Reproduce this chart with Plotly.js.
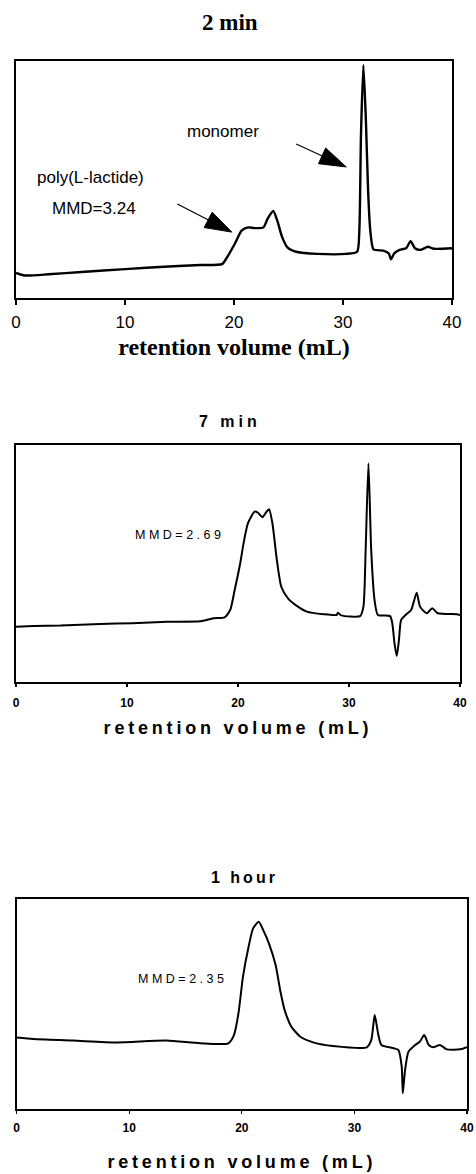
<!DOCTYPE html>
<html>
<head>
<meta charset="utf-8">
<script src="https://cdn.plot.ly/plotly-3.0.1.min.js"></script>
<style>
html, body { margin: 0; padding: 0; background: #fff; }
#chart { width: 476px; height: 1174px; }
.annotation[data-index="1"] text { letter-spacing: 4px; }
.annotation[data-index="2"] text { letter-spacing: 3px; }
.annotation[data-index="6"] text, .annotation[data-index="7"] text { letter-spacing: 3.5px; }
.g-x2title text, .g-x3title text { letter-spacing: 3.8px; }
.x2y2 .xtick text, .x3y3 .xtick text { letter-spacing: 1px; }
</style>
</head>
<body>
<div id="chart"></div>
<script>
// ---- Data (x = retention volume mL, y = detector response, arbitrary 0-100) ----
const x2min = [0, 0.8, 3, 6, 10, 14, 16.9, 18.9, 19.3, 20.1, 20.7, 21.3, 21.9, 22.7, 23.1, 23.6, 24.0, 24.4, 24.9, 25.8, 27.6, 30.3, 31.3, 31.5, 31.65, 31.87, 32.1, 32.3, 32.5, 32.8, 33.7, 34.2, 34.4, 34.7, 35.2, 35.8, 36.2, 36.6, 37.1, 37.8, 38.3, 40];
const y2min = [10.6, 9.5, 10.0, 11.0, 12.2, 13.3, 13.9, 14.3, 16.7, 23.1, 28.4, 29.8, 29.5, 29.8, 33.6, 36.7, 32.2, 25.9, 21.4, 19.4, 18.6, 18.6, 19.5, 28.7, 69.0, 98.3, 75.0, 45.6, 28.7, 20.5, 20.0, 18.8, 16.3, 18.8, 20.3, 21.0, 24.0, 21.0, 20.3, 21.6, 20.8, 21.0];

const x7min = [0, 1.6, 4, 7.6, 10.5, 13.6, 16.6, 17.8, 18.8, 19.3, 19.7, 20.2, 20.5, 20.9, 21.5, 21.8, 22.2, 22.5, 22.8, 23.1, 23.5, 23.9, 24.5, 25.3, 26.2, 27.7, 28.9, 29.0, 29.3, 31.0, 31.3, 31.5, 31.75, 32.0, 32.3, 32.6, 33.7, 33.9, 34.1, 34.3, 34.5, 34.7, 35.2, 35.6, 36.1, 36.4, 37.0, 37.5, 38.0, 39.7, 40];
const y7min = [23.3, 23.6, 23.8, 24.5, 24.8, 25.4, 25.6, 26.9, 27.3, 30.4, 38.8, 50.1, 58.5, 67.0, 71.9, 71.4, 69.5, 71.4, 72.9, 67.0, 51.5, 40.2, 35.3, 32.1, 29.7, 28.6, 28.3, 29.2, 28.1, 27.8, 31.8, 55.7, 92.3, 55.7, 34.6, 28.3, 27.8, 24.8, 16.3, 11.0, 17.7, 26.2, 28.7, 30.4, 37.7, 31.8, 29.0, 31.1, 29.0, 28.6, 28.3];

const x1h = [0, 1.5, 5, 8.9, 13.3, 16.3, 18.8, 19.3, 19.7, 20.1, 20.6, 21.0, 21.5, 21.9, 22.4, 23.0, 23.4, 23.8, 24.4, 25.2, 26.4, 28.1, 31.1, 31.5, 31.8, 32.1, 32.4, 33.5, 33.9, 34.2, 34.3, 34.5, 34.8, 35.4, 35.8, 36.2, 36.6, 37.0, 37.6, 38.2, 39.4, 40];
const y1h = [34.0, 33.3, 32.6, 31.7, 32.6, 31.3, 31.3, 35.2, 45.6, 63.0, 77.3, 86.0, 89.2, 85.2, 78.9, 68.6, 56.7, 47.1, 39.2, 34.4, 31.6, 30.0, 29.4, 32.9, 44.8, 36.0, 30.5, 28.9, 28.1, 20.2, 7.5, 18.6, 27.3, 30.5, 32.0, 35.2, 30.5, 29.4, 30.5, 28.4, 28.4, 29.4];

const tickVals = [0, 10, 20, 30, 40];
const tickText = ['0', '10', '20', '30', '40'];

// annotation arrows (tail -> tip), in data coordinates of panel 1
const arrowMonoX = [25.7, 30.3], arrowMonoY = [65.0, 55.3];
const arrowPolyX = [14.8, 19.8], arrowPolyY = [39.7, 27.8];

// ---- Figure ----
const W = 476, H = 1174;
const px = v => v / W;
const py = v => 1 - v / H;

function curve(x, y, ax, width) {
  return { x: x, y: y, xaxis: ax[0], yaxis: ax[1], type: 'scatter', mode: 'lines',
    line: { color: '#000', width: width, shape: 'spline', smoothing: 0.6 }, hoverinfo: 'skip', showlegend: false };
}
function arrow(x, y) {
  return { x: x, y: y, xaxis: 'x', yaxis: 'y', type: 'scatter', mode: 'lines+markers',
    line: { color: '#000', width: 1.2 }, opacity: 1,
    marker: { symbol: 'arrow', size: [0, 28], color: '#000', opacity: 1, angleref: 'previous', line: { color: '#000', width: 1 } },
    hoverinfo: 'skip', showlegend: false };
}

const data = [
  curve(x2min, y2min, ['x', 'y'], 2.4),
  curve(x7min, y7min, ['x2', 'y2'], 2),
  curve(x1h, y1h, ['x3', 'y3'], 2),
  arrow(arrowMonoX, arrowMonoY),
  arrow(arrowPolyX, arrowPolyY)
];

const sans = 'Liberation Sans, Arial, sans-serif';
const serif = 'Liberation Serif, Times New Roman, serif';

function xax(domain, anchor, tickFont, labelGap, titleText, titleFont, standoff, ticklen, lw) {
  return {
    domain: domain, anchor: anchor, range: [0, 40], fixedrange: true,
    tickvals: tickVals, ticktext: tickText, ticks: 'outside', ticklen: ticklen, tickwidth: 1.2, tickcolor: '#000',
    tickfont: tickFont, ticklabelstandoff: labelGap,
    showline: true, linecolor: '#000', linewidth: lw, mirror: true,
    showgrid: false, zeroline: false,
    title: { text: titleText, font: titleFont, standoff: standoff }
  };
}
function yax(domain, anchor, lw) {
  return { domain: domain, anchor: anchor, range: [0, 100], fixedrange: true,
    showticklabels: false, ticks: '', showline: true, linecolor: '#000', linewidth: lw, mirror: true,
    showgrid: false, zeroline: false };
}

const layout = {
  width: W, height: H,
  margin: { l: 0, r: 0, t: 0, b: 0 },
  paper_bgcolor: '#fff', plot_bgcolor: '#fff',
  showlegend: false,
  xaxis: xax([px(16), px(452)], 'y', { family: sans, size: 17, color: '#000' }, 3,
    'retention volume (mL)', { family: serif, size: 24, color: '#000', weight: 'bold' }, 7, 5, 2),
  yaxis: yax([py(298), py(61)], 'x', 2),
  xaxis2: xax([px(16), px(460)], 'y2', { family: sans, size: 12, color: '#000', weight: 'bold' }, 6,
    'retention volume (mL)', { family: sans, size: 18, color: '#000', weight: 'bold' }, 12, 3, 1.6),
  yaxis2: yax([py(682), py(445)], 'x2', 1.6),
  xaxis3: xax([px(16.7), px(467)], 'y3', { family: sans, size: 12, color: '#000', weight: 'bold' }, 4,
    'retention volume (mL)', { family: sans, size: 18, color: '#000', weight: 'bold' }, 21, 3, 1.6),
  yaxis3: yax([py(1109), py(899)], 'x3', 1.6),
  annotations: [
    { text: '2 min', x: px(230), y: py(23), font: { family: serif, size: 23, color: '#000', weight: 'bold' } },
    { text: '7 min', x: px(230), y: py(422), font: { family: sans, size: 16, color: '#000', weight: 'bold' } },
    { text: '1 hour', x: px(245), y: py(877), font: { family: sans, size: 16, color: '#000', weight: 'bold' } },
    { text: 'monomer', x: px(223), y: py(132), font: { family: sans, size: 17, color: '#000' } },
    { text: 'poly(L-lactide)', x: px(90), y: py(177), font: { family: sans, size: 17, color: '#000' } },
    { text: 'MMD=3.24', x: px(94), y: py(208), font: { family: sans, size: 17, color: '#000' } },
    { text: 'MMD=2.69', x: px(180), y: py(535), font: { family: sans, size: 12.5, color: '#000' } },
    { text: 'MMD=2.35', x: px(183), y: py(979), font: { family: sans, size: 12.5, color: '#000' } }
  ].map(a => Object.assign({ xref: 'paper', yref: 'paper', xanchor: 'center', yanchor: 'middle', showarrow: false }, a))
};

Plotly.newPlot('chart', data, layout, { displayModeBar: false, staticPlot: true });
</script>
</body>
</html>
